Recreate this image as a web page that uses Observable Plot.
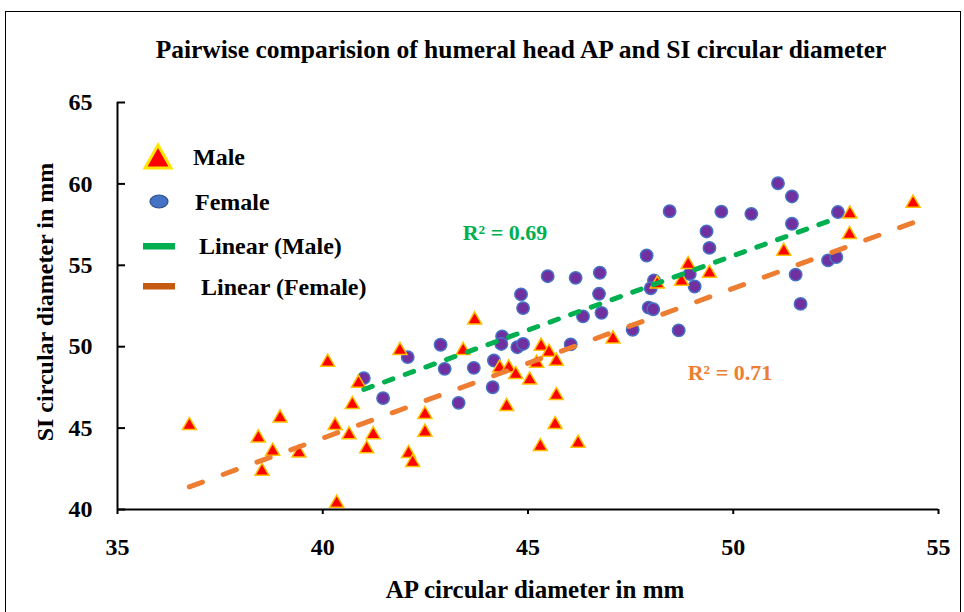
<!DOCTYPE html>
<html><head><meta charset="utf-8">
<script src="https://cdn.jsdelivr.net/npm/d3@7"></script>
<script src="https://cdn.jsdelivr.net/npm/@observablehq/plot@0.6"></script>
<style>
body{margin:0;background:#fff;}
#wrap{position:relative;width:964px;height:612px;overflow:hidden;font-family:"Liberation Serif",serif;font-weight:bold;color:#000;}
#frame{position:absolute;left:5px;top:11px;width:956px;height:700px;border:1.5px solid #000;box-sizing:border-box;}
.t{position:absolute;white-space:nowrap;line-height:1;}
#chart{position:absolute;left:0;top:0;}
</style></head>
<body>
<div id="wrap">
  <div id="frame"></div>
  <div id="chart"></div>
  <div class="t" id="title" style="font-size:25.5px;left:521px;top:37px;transform:translateX(-50%);"></div>
  <div class="t" id="xlabel" style="font-size:25px;left:535px;top:577px;transform:translateX(-50%);"></div>
  <div class="t" id="ylabel" style="font-size:24px;left:45px;top:302px;transform:translate(-50%,-50%) rotate(-90deg);"></div>
  <div class="t" id="r2m" style="font-size:22px;color:#00B050;left:505px;top:222px;transform:translateX(-50%);"></div>
  <div class="t" id="r2f" style="font-size:22px;color:#ED7D31;left:730px;top:362px;transform:translateX(-50%);"></div>
  <svg style="position:absolute;left:0;top:0;" width="964" height="612" id="legsym">
    <path d="M158,145 L171,168 L145,168 Z" fill="#FF0000" stroke="#FFE600" stroke-width="3" stroke-linejoin="miter"/>
    <ellipse cx="159" cy="201.5" rx="9" ry="6.5" fill="#4472C4" stroke="#2F528F" stroke-width="1.2"/>
    <rect x="143" y="243" width="32" height="6.5" fill="#00B050"/>
    <rect x="143" y="283" width="32" height="6.5" fill="#C55A11"/>
  </svg>
  <div class="t" id="lg0" style="font-size:24px;left:193px;top:145px;"></div>
  <div class="t" id="lg1" style="font-size:24px;left:195px;top:190px;"></div>
  <div class="t" id="lg2" style="font-size:24px;left:199px;top:234px;"></div>
  <div class="t" id="lg3" style="font-size:24px;left:201px;top:275px;"></div>
</div>
<script>
// ---- data ----
const maleAP = [36.75,38.43,38.78,38.96,38.52,39.42,40.12,40.34,40.30,40.64,40.72,40.87,41.07,41.23,41.88,42.49,42.49,42.09,42.19,43.42,43.70,44.31,44.53,44.70,45.04,45.32,45.51,45.21,45.69,44.48,45.69,45.66,45.30,46.22,47.07,48.15,48.74,48.90,49.42,51.23,52.84,52.83,54.38];
const maleSI = [45.16,44.40,43.58,45.63,42.35,43.48,49.05,40.39,45.16,44.59,46.45,47.76,43.73,44.60,49.77,45.84,44.75,43.44,42.89,49.77,51.65,48.70,48.70,48.29,47.96,50.03,49.66,48.99,49.11,46.33,47.00,45.22,43.87,44.07,50.48,53.86,54.02,55.05,54.52,55.87,58.16,56.89,58.82];
const femaleAP = [41.00,41.47,42.07,42.87,42.97,43.31,43.68,44.17,44.14,44.37,44.35,44.74,44.88,44.83,44.88,45.48,46.16,46.75,46.73,46.34,46.79,46.04,47.55,47.89,48.07,47.99,47.94,48.05,48.67,48.45,48.94,49.06,49.35,49.42,49.71,50.44,51.09,51.43,51.43,52.55,51.52,51.64,52.31,52.51];
const femaleSI = [48.07,46.84,49.36,50.12,48.64,46.55,48.70,49.15,47.51,50.63,50.17,49.97,50.17,53.21,52.37,54.33,54.23,54.54,53.25,51.86,52.08,50.14,51.04,55.60,54.07,53.59,52.40,52.30,51.00,58.32,54.47,53.70,57.08,56.07,58.30,58.16,60.04,59.23,57.55,58.27,54.43,52.63,55.30,55.50];
const xTicks = [35,40,45,50,55];
const yTicks = [40,45,50,55,60,65];
const titleText = "Pairwise comparision of humeral head AP and SI circular diameter";
const xLabelText = "AP circular diameter in mm";
const yLabelText = "SI circular diameter in mm";
const legendLabels = ["Male","Female","Linear (Male)","Linear (Female)"];
const r2Labels = ["R² = 0.69","R² = 0.71"];

const males = maleAP.map((x,i)=>({x, y: maleSI[i]}));
const females = femaleAP.map((x,i)=>({x, y: femaleSI[i]}));

document.getElementById("title").textContent = titleText;
document.getElementById("xlabel").textContent = xLabelText;
document.getElementById("ylabel").textContent = yLabelText;
document.getElementById("r2m").textContent = r2Labels[0];
document.getElementById("r2f").textContent = r2Labels[1];
legendLabels.forEach((t,i)=>document.getElementById("lg"+i).textContent = t);

const W = 964, H = 612, ML = 117, MR = 26, MT = 102, MB = 103;
const font = {fontFamily:"Liberation Serif", fontWeight:"bold", fontSize:24};

const plot = Plot.plot({
  width: W, height: H,
  marginLeft: ML, marginRight: MR, marginTop: MT, marginBottom: MB,
  style: {fontFamily:"Liberation Serif", fontSize:"24px", fontWeight:"bold", color:"#000", background:"transparent", overflow:"visible"},
  x: {domain: [xTicks[0], xTicks[xTicks.length-1]]},
  y: {domain: [yTicks[0], yTicks[yTicks.length-1]]},
  marks: [
    Plot.ruleX([xTicks[0]], {stroke:"#000", strokeWidth:2}),
    Plot.ruleY([yTicks[0]], {stroke:"#000", strokeWidth:2}),
    Plot.axisX({ticks: xTicks, tickSize: 5, tickPadding: 23, strokeWidth: 2, label: null, tickFormat: d=>String(d), ...font}),
    Plot.axisY({ticks: yTicks, tickSize: 0, tickPadding: 25, label: null, tickFormat: d=>String(d), ...font}),
    Plot.tickY(yTicks, {y: d=>d, insetRight: W-ML-MR-8, stroke:"#000", strokeWidth:2}),
    Plot.dot(females, {x:"x", y:"y", r:6.2, fill:"#7030A0", stroke:"#4472C4", strokeWidth:1.5}),
    Plot.dot(males, {x:"x", y:"y", symbol:"triangle", r:5.2, fill:"#FF0000", stroke:"#FFC000", strokeWidth:1.5}),
    Plot.linearRegressionY(females, {x:"x", y:"y", ci:0, stroke:"#00B050", strokeWidth:5, strokeDasharray:"9,13", strokeLinecap:"round"}),
    Plot.linearRegressionY(males, {x:"x", y:"y", ci:0, stroke:"#ED7D31", strokeWidth:5, strokeDasharray:"14,22", strokeLinecap:"round"})
  ]
});
document.getElementById("chart").appendChild(plot);
</script>
</body></html>
